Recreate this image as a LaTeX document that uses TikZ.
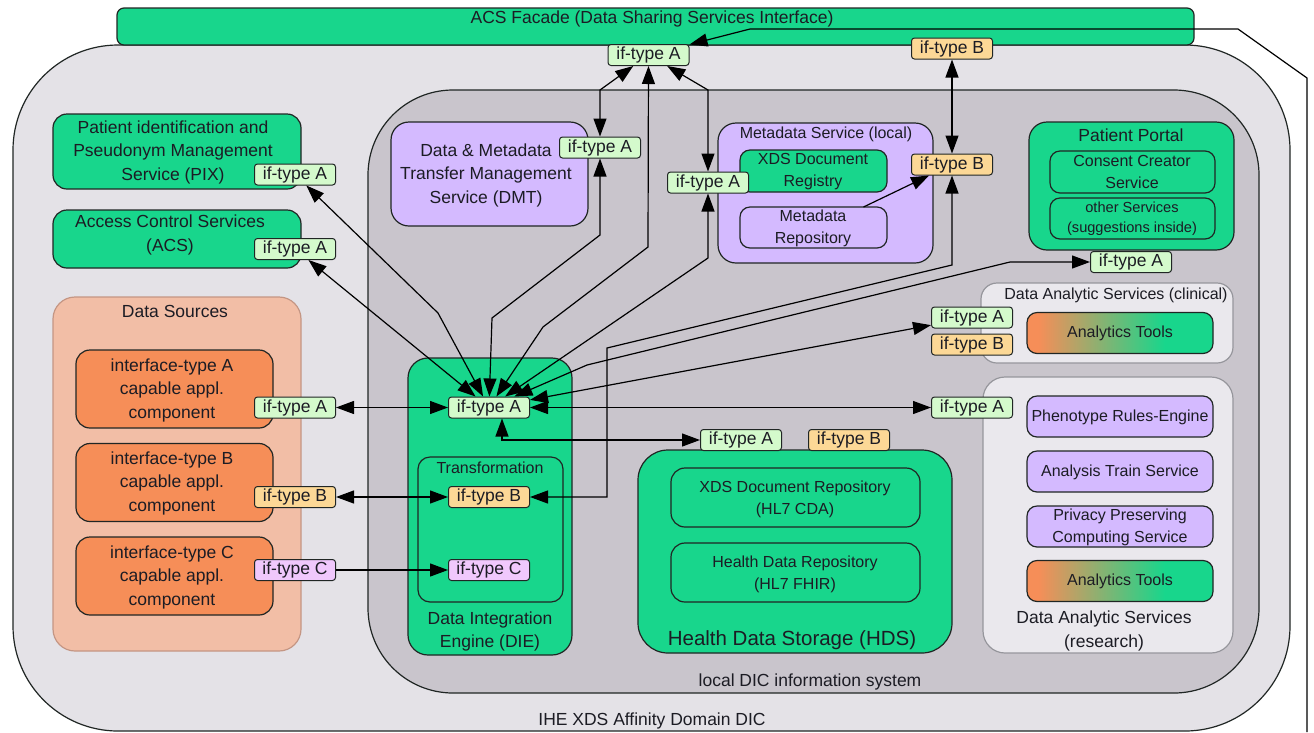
\documentclass[tikz,border=0pt]{standalone}
\usepackage{fontspec}
\setmainfont{Liberation Sans}
\usetikzlibrary{arrows.meta}

\definecolor{outerbg}{RGB}{228,226,231}
\definecolor{localbg}{RGB}{201,197,204}
\definecolor{mint}{RGB}{24,214,140}
\definecolor{lilac}{RGB}{212,186,255}
\definecolor{salmon}{RGB}{242,190,166}
\definecolor{salmonedge}{RGB}{196,150,132}
\definecolor{tangerine}{RGB}{246,142,88}
\definecolor{ifa}{RGB}{212,250,204}
\definecolor{ifb}{RGB}{252,216,150}
\definecolor{ifc}{RGB}{240,200,252}
\definecolor{paleg}{RGB}{234,232,237}
\definecolor{palegray}{RGB}{150,150,156}
\definecolor{edge}{RGB}{32,38,36}
\definecolor{ink}{RGB}{28,28,36}

\newcommand\szL{\fontsize{17.5pt}{23.5pt}\selectfont}
\newcommand\szM{\fontsize{16pt}{22pt}\selectfont}
\newcommand\szS{\fontsize{14.6pt}{20pt}\selectfont}
\newcommand\szXL{\fontsize{20.5pt}{24pt}\selectfont}

\pgfdeclarehorizontalshading{toolshade}{100bp}{color(0bp)=(tangerine); color(28bp)=(tangerine); color(62bp)=(mint); color(100bp)=(mint)}

\begin{document}
\begin{tikzpicture}[x=1pt,y=-1pt,
  wh/.style 2 args={minimum width=#1pt,minimum height=#2pt},
  area/.style={draw=edge,line width=1.2pt,inner sep=0pt,outer sep=0pt},
  greenbox/.style={area,fill=mint},
  lilacbox/.style={area,fill=lilac},
  srcbox/.style={area,fill=tangerine,rounded corners=14pt,wh={197}{78}},
  palebox/.style={area,draw=palegray,fill=paleg},
  toolbox/.style={area,shading=toolshade,rounded corners=10pt,wh={186}{41}},
  researchbox/.style={lilacbox,rounded corners=10pt,wh={186}{41}},
  txt/.style={align=center,inner sep=0pt,font=\szL,text=ink},
  iface/.style={draw=edge,line width=1pt,rounded corners=3pt,wh={81}{21},inner sep=0pt,font=\szL,text=ink},
  ifA/.style={iface,fill=ifa},
  ifB/.style={iface,fill=ifb},
  ifC/.style={iface,fill=ifc},
  link/.style={line width=1.2pt,draw=black,
    arrows={Triangle[length=18pt,width=13pt]-Triangle[length=18pt,width=13pt]}},
  oneway/.style={line width=1.2pt,draw=black,
    arrows={-Triangle[length=18pt,width=13pt]}},
]
\useasboundingbox (0,0) rectangle (1314,732);

% ---------- domain and local system ----------
\node[area,fill=outerbg,rounded corners=105pt,wh={1277}{686}] (domain) at (651.5,388) {};
\node[txt] (domainlbl) at (652,721) {IHE XDS Affinity Domain DIC};
\node[area,fill=localbg,rounded corners=85pt,wh={891}{603}] (local) at (813.5,391.5) {};
\node[txt] (locallbl) at (810,682) {local DIC information system};

% ---------- facade ----------
\node[greenbox,rounded corners=7pt,wh={1077}{37}] (facade) at (655.5,26.5) {};
\node[txt] (facadelbl) at (652,19) {ACS Facade (Data Sharing Services Interface)};

% ---------- left column ----------
\node[greenbox,rounded corners=14pt,wh={248}{75}] (pix) at (177,151.5) {};
\node[txt] (pixlbl) at (173,152) {Patient identification and\\Pseudonym Management\\Service (PIX)};
\node[greenbox,rounded corners=14pt,wh={248}{58}] (acs) at (177,239) {};
\node[txt] (acslbl) at (170,235) {Access Control Services\\(ACS)};

\node[area,draw=salmonedge,fill=salmon,rounded corners=22pt,wh={248}{354}] (sources) at (177,474) {};
\node[txt] (sourceslbl) at (175,311) {Data Sources};
\node[srcbox] (srcAbox) at (174.5,389) {};
\node[txt] (srcAlbl) at (172,390) {interface-type A\\capable appl.\\component};
\node[srcbox] (srcBbox) at (174.5,482.5) {};
\node[txt] (srcBlbl) at (172,483) {interface-type B\\capable appl.\\component};
\node[srcbox] (srcCbox) at (174.5,576) {};
\node[txt] (srcClbl) at (172,577) {interface-type C\\capable appl.\\component};

% ---------- data integration engine ----------
\node[greenbox,rounded corners=20pt,wh={164}{297}] (die) at (490,506.5) {};
\node[txt] (dielbl) at (490,631.5) {Data Integration\\Engine (DIE)};
\node[greenbox,rounded corners=12pt,wh={145}{145}] (trans) at (490.5,529.5) {};
\node[txt,font=\szM] (translbl) at (490,468) {Transformation};

% ---------- DMT ----------
\node[lilacbox,rounded corners=18pt,wh={197}{104}] (dmt) at (489.5,174) {};
\node[txt] (dmtlbl) at (486,175) {Data \& Metadata\\Transfer Management\\Service (DMT)};

% ---------- metadata service ----------
\node[lilacbox,rounded corners=18pt,wh={215}{140}] (meta) at (825.5,193) {};
\node[txt,font=\szM] (metalbl) at (826,134) {Metadata Service (local)};
\node[greenbox,rounded corners=10pt,wh={147}{42}] (xdsreg) at (813.5,171) {};
\node[txt,font=\szM] (xdsreglbl) at (813,172) {XDS Document\\Registry};
\node[lilacbox,rounded corners=10pt,wh={147}{41}] (metarep) at (813.5,227.5) {};
\node[txt,font=\szM] (metareplbl) at (813,228) {Metadata\\Repository};

% ---------- patient portal ----------
\node[greenbox,rounded corners=18pt,wh={205}{128}] (portal) at (1131.5,186) {};
\node[txt] (portallbl) at (1131,135) {Patient Portal};
\node[greenbox,rounded corners=10pt,wh={165}{42}] (consent) at (1132.5,172) {};
\node[txt,font=\szM] (consentlbl) at (1132,172) {Consent Creator\\Service};
\node[greenbox,rounded corners=10pt,wh={165}{41}] (other) at (1132.5,218.5) {};
\node[txt,font=\szS] (otherlbl) at (1132,219) {other Services\\(suggestions inside)};

% ---------- analytic services ----------
\node[palebox,rounded corners=16pt,wh={252}{80}] (clinical) at (1107,323) {};
\node[txt,font=\szM] (clinicallbl) at (1116,295) {Data Analytic Services (clinical)};
\node[toolbox] (tools1) at (1120,333) {};
\node[txt,font=\szM] (tools1lbl) at (1120,333) {Analytics Tools};

\node[palebox,rounded corners=22pt,wh={250}{276}] (research) at (1108,515) {};
\node[txt] (researchlbl) at (1104,631) {Data Analytic Services\\(research)};
\node[researchbox] (pheno) at (1120,416.5) {};
\node[txt,font=\szM] (phenolbl) at (1120,417) {Phenotype Rules-Engine};
\node[researchbox] (train) at (1120,471.5) {};
\node[txt,font=\szM] (trainlbl) at (1120,472) {Analysis Train Service};
\node[researchbox] (privacy) at (1120,526.5) {};
\node[txt,font=\szM] (privacylbl) at (1120,527) {Privacy Preserving\\Computing Service};
\node[toolbox] (tools2) at (1120,581) {};
\node[txt,font=\szM] (tools2lbl) at (1120,581) {Analytics Tools};

% ---------- health data storage ----------
\node[greenbox,rounded corners=30pt,wh={314}{203}] (hds) at (795,551.5) {};
\node[txt,font=\szXL] (hdslbl) at (792,640) {Health Data Storage (HDS)};
\node[greenbox,rounded corners=14pt,wh={249}{59}] (xdsrep) at (795.5,497.5) {};
\node[txt,font=\szM] (xdsreplbl) at (795,499) {XDS Document Repository\\(HL7 CDA)};
\node[greenbox,rounded corners=14pt,wh={249}{59}] (hdr) at (795.5,572.5) {};
\node[txt,font=\szM] (hdrlbl) at (795,574) {Health Data Repository\\(HL7 FHIR)};

% ---------- interface ports ----------
\node[ifA] (facA) at (648.5,55) {if-type A};
\node[ifB] (facB) at (952,48.5) {if-type B};
\node[ifA] (pixA) at (295,174.5) {if-type A};
\node[ifA] (acsA) at (295,249) {if-type A};
\node[ifA] (srcA) at (295,407.5) {if-type A};
\node[ifB] (srcB) at (295,497) {if-type B};
\node[ifC] (srcC) at (295,570) {if-type C};
\node[ifA] (dieA) at (489,407.5) {if-type A};
\node[ifB] (dieB) at (489,497) {if-type B};
\node[ifC] (dieC) at (489,570) {if-type C};
\node[ifA] (dmtA) at (600,147.5) {if-type A};
\node[ifA] (metaA) at (708,182.5) {if-type A};
\node[ifB] (metaB) at (952,164.5) {if-type B};
\node[ifA] (ppA) at (1131,262) {if-type A};
\node[ifA] (clinA) at (972,317.5) {if-type A};
\node[ifB] (clinB) at (972,344.5) {if-type B};
\node[ifA] (resA) at (972,407.5) {if-type A};
\node[ifA] (hdsA) at (741,440) {if-type A};
\node[ifB] (hdsB) at (849,440) {if-type B};

% ---------- connectors ----------
\coordinate (feedin) at (1307,732);
\draw[oneway] (feedin) -- (1307,78) -- (1238,29) -- (750,29) -- (facA);
\draw[link] (facA) -- (600,90) -- (dmtA);
\draw[link] (facA) -- (708,90) -- (metaA);
\draw[link] (facA) -- (648,247) -- (543,327) -- (dieA);
\draw[link] (facB) -- (metaB);
\draw[oneway] ([xshift=50pt]metarep.north) -- (metaB);
\draw[link] (dmtA) -- (600,235) -- (492,318) -- (dieA);
\draw[link] (metaA) -- (708,258) -- (dieA);
\draw[link] (metaB) -- (952,265) -- (607,348) -- (607,497) -- (dieB);
\draw[link] (pixA) -- (438,313) -- (dieA);
\draw[link] (acsA) -- (dieA);
\draw[link] (ppA) -- (1010,262) -- (587,365) -- (dieA);
\draw[link] (clinA) -- (dieA);
\draw[link] (resA) -- (dieA);
\draw[link] ([xshift=13pt]dieA.south) -- (502,440) -- (hdsA);
\draw[link] (srcA) -- (dieA);
\draw[link] (srcB) -- (dieB);
\draw[oneway] (srcC) -- (dieC);
\end{tikzpicture}
\end{document}
